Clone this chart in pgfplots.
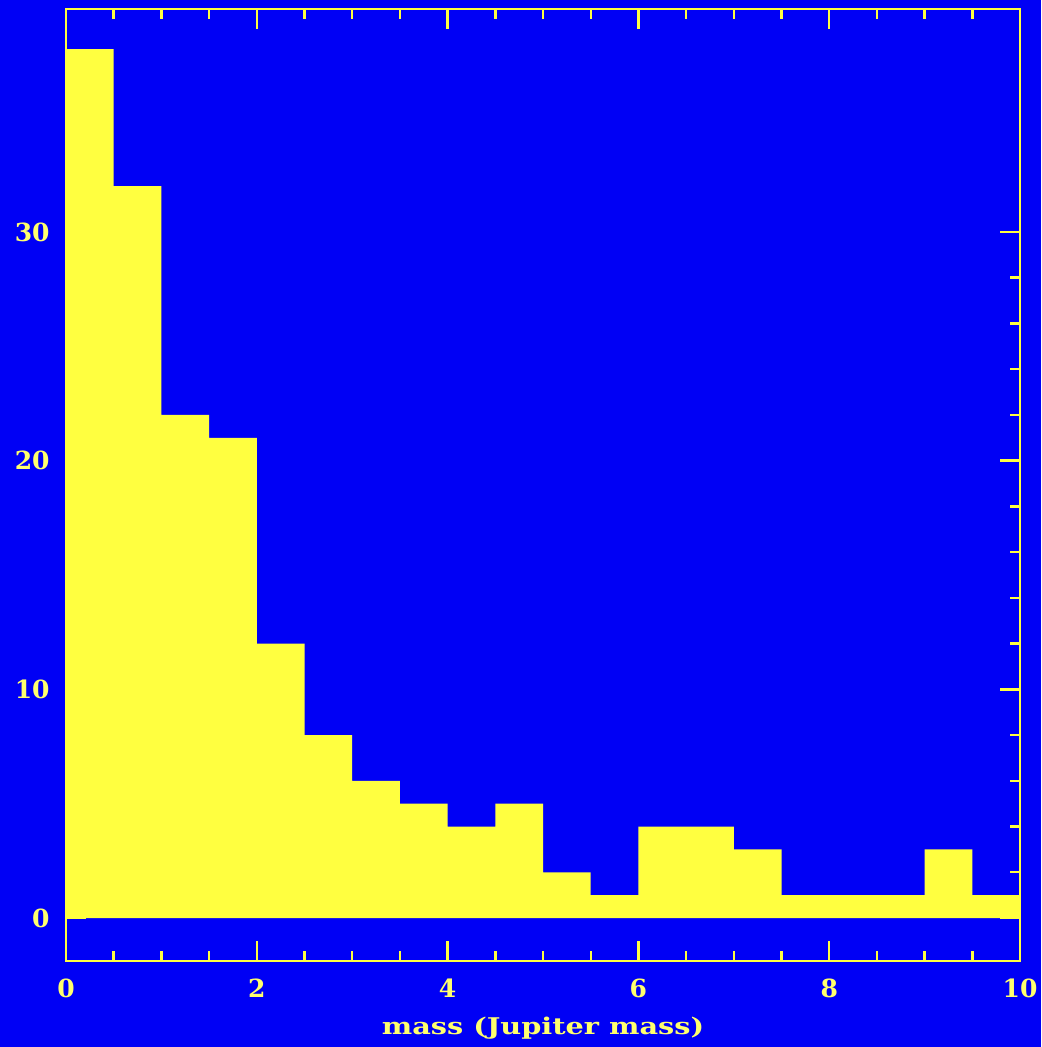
\documentclass[border=0pt]{standalone}
\usepackage{pgfplots}
\pgfplotsset{compat=1.18}
\usepackage{fontspec}
\setmainfont{DejaVu Serif}
\newfontfamily\labelfont[FakeStretch=1.25]{DejaVu Serif}

\definecolor{bgblue}{RGB}{0,0,245}
\definecolor{barY}{RGB}{255,255,64}
\definecolor{txtY}{RGB}{255,255,110}

\begin{document}
\begin{tikzpicture}
% page background
\fill[bgblue] (-33pt,-43pt) rectangle (487.5pt,480.5pt);
\begin{axis}[
  scale only axis,
  width=477pt, height=476pt,
  xmin=0, xmax=10,
  ymin=-1.88, ymax=39.75,
  axis on top,
  axis line style={barY, line width=1.3pt},
  every tick/.style={barY, line width=1.2pt},
  tick align=inside,
  major tick length=10pt,
  minor tick length=5pt,
  xtick={0,2,4,6,8,10},
  minor x tick num=3,
  ytick={0,10,20,30},
  minor y tick num=4,
  /pgf/number format/assume math mode=true,
  ticklabel style={font=\bfseries\fontsize{12.5}{15}\selectfont, text=txtY, inner sep=0pt},
  xticklabel style={yshift=-9pt},
  yticklabel style={xshift=-8pt},
  xlabel={mass (Jupiter mass)},
  every axis x label/.style={at={(axis description cs:0.5,0)}, anchor=base,
    yshift=-36.5pt, inner sep=0pt, font=\labelfont\bfseries\fontsize{11.5}{13}\selectfont, text=txtY},
]
\addplot[const plot, fill=barY, draw=none] coordinates {
  (0,38) (0.5,32) (1,22) (1.5,21) (2,12) (2.5,8) (3,6) (3.5,5)
  (4,4) (4.5,5) (5,2) (5.5,1) (6,4) (6.5,4) (7,3) (7.5,1)
  (8,1) (8.5,1) (9,3) (9.5,1) (10,1)
} \closedcycle;
\end{axis}
\pgfresetboundingbox
\path (-33pt,-43pt) rectangle (487.5pt,480.5pt);
\end{tikzpicture}
\end{document}
